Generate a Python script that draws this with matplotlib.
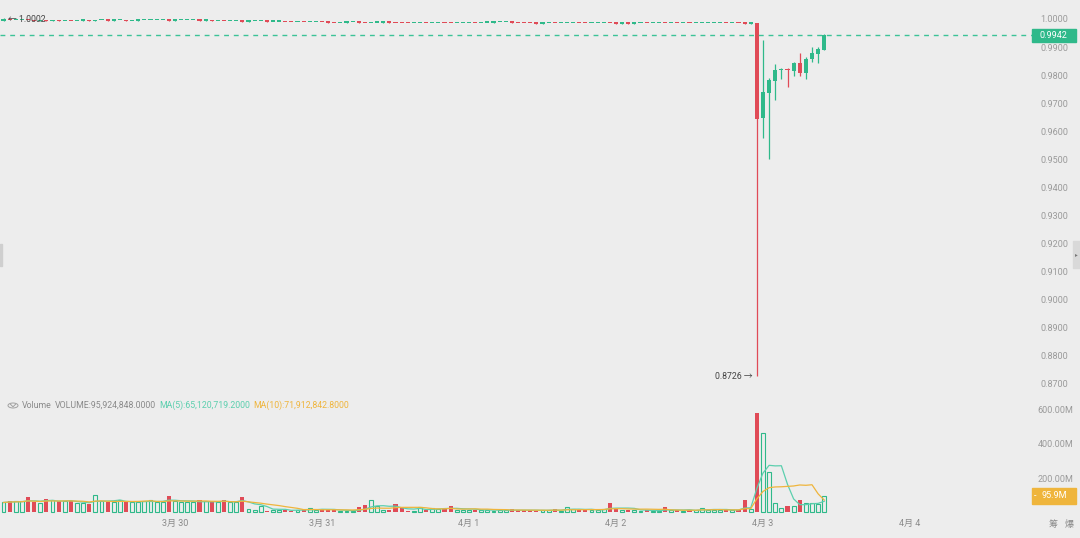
import numpy as np
import pandas as pd
import matplotlib.pyplot as plt
from matplotlib.patches import Rectangle, Circle

plt.rcParams['font.family'] = ['Roboto', 'Noto Sans CJK SC', 'DejaVu Sans']

BG = '#ededed'
UP = '#2fb98a'
DOWN = '#e04b57'
MA5_C = '#5ccfae'
MA10_C = '#efb53c'
TXT = '#9a9a9a'

# hourly candles, hour 0 = 4月3 00:00
hours = np.arange(-124, 11)

# closes before the crash (open = previous close)
first_open = 0.9994
closes_pre = [
    0.9997, 0.9995, 0.9996, 0.9997, 0.9995, 0.9993, 0.9995, 0.9993, 0.9995, 0.9993,
    0.9994, 0.9992, 0.9994, 0.9995, 0.9993, 0.9995, 0.9996, 0.9994, 0.9995, 0.9996,
    0.9993, 0.9994, 0.9995, 0.9995, 0.9996, 0.9996, 0.9997, 0.9994, 0.9995, 0.9995,
    0.9996, 0.9996, 0.9994, 0.9995, 0.9993, 0.9994, 0.9992, 0.9993, 0.9994, 0.9991,
    0.9992, 0.9992, 0.9993, 0.9990, 0.9991, 0.9991, 0.9989, 0.9988, 0.9989, 0.9988,
    0.9989, 0.9989, 0.9988, 0.9987, 0.9986, 0.9987, 0.9988, 0.9988, 0.9987, 0.9986,
    0.9987, 0.9987, 0.9988, 0.9987, 0.9986, 0.9985, 0.9984, 0.9985, 0.9986, 0.9985,
    0.9986, 0.9987, 0.9986, 0.9985, 0.9986, 0.9986, 0.9987, 0.9986, 0.9987, 0.9987,
    0.9988, 0.9988, 0.9988, 0.9987, 0.9986, 0.9985, 0.9984, 0.9983, 0.9984, 0.9985,
    0.9984, 0.9985, 0.9986, 0.9986, 0.9985, 0.9984, 0.9985, 0.9985, 0.9986, 0.9984,
    0.9983, 0.9984, 0.9983, 0.9984, 0.9985, 0.9984, 0.9985, 0.9985, 0.9984, 0.9985,
    0.9984, 0.9985, 0.9984, 0.9985, 0.9985, 0.9986, 0.9986, 0.9986, 0.9985, 0.9986,
    0.9985, 0.9983, 0.9984,
]
peak_high = 1.0002

# crash candle and after
open_post = [0.9984, 0.9646, 0.9737, 0.9779, 0.9818, 0.9821, 0.9814, 0.9844, 0.9806, 0.9856, 0.9877, 0.9889]
high_post = [0.9985, 0.9925, 0.9790, 0.9839, 0.9826, 0.9825, 0.9848, 0.9880, 0.9866, 0.9899, 0.9900, 0.9945]
low_post = [0.8726, 0.9577, 0.9500, 0.9711, 0.9785, 0.9756, 0.9796, 0.9796, 0.9787, 0.9848, 0.9842, 0.9889]
close_post = [0.9645, 0.9739, 0.9781, 0.9819, 0.9821, 0.9818, 0.9844, 0.9806, 0.9857, 0.9880, 0.9892, 0.9942]

# volume in millions
volume = [
    58, 64, 64, 64, 87, 58, 54, 81, 72, 64, 64, 64, 54, 54, 48, 104, 68, 58, 62, 70,
    64, 58, 58, 68, 73, 62, 62, 93, 66, 58, 58, 58, 73, 64, 58, 58, 73, 62, 62, 91,
    19, 15, 39, 10,
    15, 14, 14, 10, 15, 17, 25, 14, 23, 14, 14, 8, 6, 10, 29, 42, 73, 39, 14, 12,
    48, 25, 8, 6, 33, 14, 27, 21, 19, 39, 15, 14, 15, 15, 17, 14, 8, 15, 14, 19,
    12, 12, 14, 10,
    15, 12, 19, 10, 33, 21, 14, 12, 14, 15, 23, 54, 21, 15, 15, 15, 10, 14, 8, 6,
    33, 15, 12, 6, 14, 15, 27, 17, 15, 15, 14, 15, 14, 72, 21,
    579, 458, 237.5, 56, 25, 40, 35, 72, 54, 53, 50.68, 95.924848,
]

day_ticks = [-96, -72, -48, -24, 0, 24]
day_labels = ['3月 30', '3月 31', '4月 1', '4月 2', '4月 3', '4月 4']
price_ticks = [0.87, 0.88, 0.89, 0.90, 0.91, 0.92, 0.93, 0.94, 0.95, 0.96, 0.97, 0.98, 0.99, 1.00]
vol_ticks = [200, 400, 600]

opens = np.array([first_open] + closes_pre[:-1] + open_post)
closes = np.array(closes_pre + close_post)
highs = np.concatenate([np.maximum(opens[:-12], closes[:-12]), high_post])
lows = np.concatenate([np.minimum(opens[:-12], closes[:-12]), low_post])
highs[0] = peak_high
vol = np.array(volume)
up = closes >= opens
ma5 = pd.Series(vol).rolling(5, min_periods=1).mean()
ma10 = pd.Series(vol).rolling(10, min_periods=1).mean()

W, H = 1080, 538
fig = plt.figure(figsize=(10.8, 5.38), dpi=100, facecolor=BG)
ax = fig.add_axes([0, 1 - 395 / H, 1032 / W, 395 / H], facecolor=BG)
axv = fig.add_axes([0, 1 - 515 / H, 1032 / W, 117 / H], facecolor=BG)

xl = (-763 / 6.125, (1032 - 763) / 6.125)
for a in (ax, axv):
    a.set_xlim(*xl)
    for s in a.spines.values():
        s.set_visible(False)
    a.yaxis.tick_right()
    a.tick_params(axis='y', length=0, pad=6, labelsize=6.5, labelcolor=TXT)

# candles
colors = np.where(up, UP, DOWN)
ax.vlines(hours, lows, highs, colors=colors, linewidth=0.9)
body_lo = np.minimum(opens, closes)
body_h = np.maximum(np.abs(closes - opens), 0.0005)
ax.bar(hours, body_h, bottom=body_lo, width=0.66, color=colors, linewidth=0)

ax.set_ylim(1 - 376 / 2805, 1 + 19 / 2805)
ax.set_yticks(price_ticks)
ax.set_yticklabels(['%.4f' % t for t in price_ticks])
ax.set_xticks([])

# last price line and label
last = closes[-1]
ax.axhline(last, color='#3cc397', linewidth=1.0, dashes=(3.5, 3.5))
ax.add_patch(Rectangle((1.0, last - 0.0023), 44 / 1032, 0.0047,
                       transform=ax.get_yaxis_transform(), color=UP,
                       clip_on=False, zorder=5))
ax.text(1.0 + 8 / 1032, last, '%.4f' % last, transform=ax.get_yaxis_transform(),
        ha='left', va='center', fontsize=6.5, color='white', zorder=6)

# high / low markers
hi = int(np.argmax(highs))
lo = int(np.argmin(lows))
ax.annotate('← %.4f' % highs[hi], xy=(hours[hi], highs[hi]), xytext=(3, -1),
            textcoords='offset points', ha='left', va='center', fontsize=6.3, color='#444444')
ax.annotate('%.4f →' % lows[lo], xy=(hours[lo], lows[lo]), xytext=(-3, 0),
            textcoords='offset points', ha='right', va='center', fontsize=6.3, color='#444444')

# volume bars
axv.bar(hours[~up], vol[~up], width=0.66, color=DOWN, linewidth=0)
axv.bar(hours[up], vol[up], width=0.62, facecolor=BG, edgecolor=UP, linewidth=0.8)
axv.plot(hours, ma5, color=MA5_C, linewidth=0.9)
axv.plot(hours, ma10, color=MA10_C, linewidth=0.9)
axv.set_ylim(-14.5, 663.8)
axv.set_yticks(vol_ticks)
axv.set_yticklabels(['%.2fM' % t for t in vol_ticks])
axv.tick_params(axis='y', pad=4)
axv.set_xticks(day_ticks)
axv.set_xticklabels(day_labels)
axv.tick_params(axis='x', length=0, pad=3, labelsize=6.5, labelcolor='#8a8a8a')

# last volume label
axv.add_patch(Rectangle((1.0, vol[-1] - 46), 44 / 1032, 92,
                        transform=axv.get_yaxis_transform(), color=MA10_C,
                        clip_on=False, zorder=5))
axv.text(1.0 + 2 / 1032, vol[-1], '-', transform=axv.get_yaxis_transform(),
         ha='left', va='center', fontsize=6.5, color='white', zorder=6)
axv.text(1.0 + 10 / 1032, vol[-1], '%.1fM' % vol[-1], transform=axv.get_yaxis_transform(),
         ha='left', va='center', fontsize=6.5, color='white', zorder=6)

# volume legend line
ly = 1 - 405.5 / H
fig.patches.append(Circle((13 / W, ly), 5 / W, transform=fig.transFigure,
                          facecolor='none', edgecolor='#a0a0a0', linewidth=0.7))
fig.lines.append(plt.Line2D([10.5 / W, 13 / W, 15.5 / W], [ly + 1.2 / H, ly - 1.3 / H, ly + 1.2 / H],
                            transform=fig.transFigure, color='#a0a0a0', linewidth=0.7))
fig.text(22 / W, ly, 'Volume', fontsize=6.3, color='#8a8a8a', va='center')
fig.text(55 / W, ly, 'VOLUME:95,924,848.0000', fontsize=6.3, color='#8a8a8a', va='center')
fig.text(159 / W, ly, 'MA(5):65,120,719.2000', fontsize=6.3, color=MA5_C, va='center')
fig.text(253 / W, ly, 'MA(10):71,912,842.8000', fontsize=6.3, color=MA10_C, va='center')

# side tabs and corner text
fig.patches.append(Rectangle((1073 / W, 1 - 268 / H), 7 / W, 27 / H,
                             transform=fig.transFigure, color='#d9d9d9'))
fig.text(1076 / W, 1 - 254.5 / H, '▸', fontsize=4, color='#777777', ha='center', va='center')
fig.patches.append(Rectangle((0, 1 - 266 / H), 1.5 / W, 22 / H,
                             transform=fig.transFigure, color='#cfcfcf'))
fig.text(1053 / W, 1 - 524 / H, '筹', fontsize=6.5, color='#8a8a8a', ha='center', va='center')
fig.text(1069 / W, 1 - 524 / H, '爆', fontsize=6.5, color='#8a8a8a', ha='center', va='center')

fig.savefig('out.png', dpi=100, facecolor=BG)
